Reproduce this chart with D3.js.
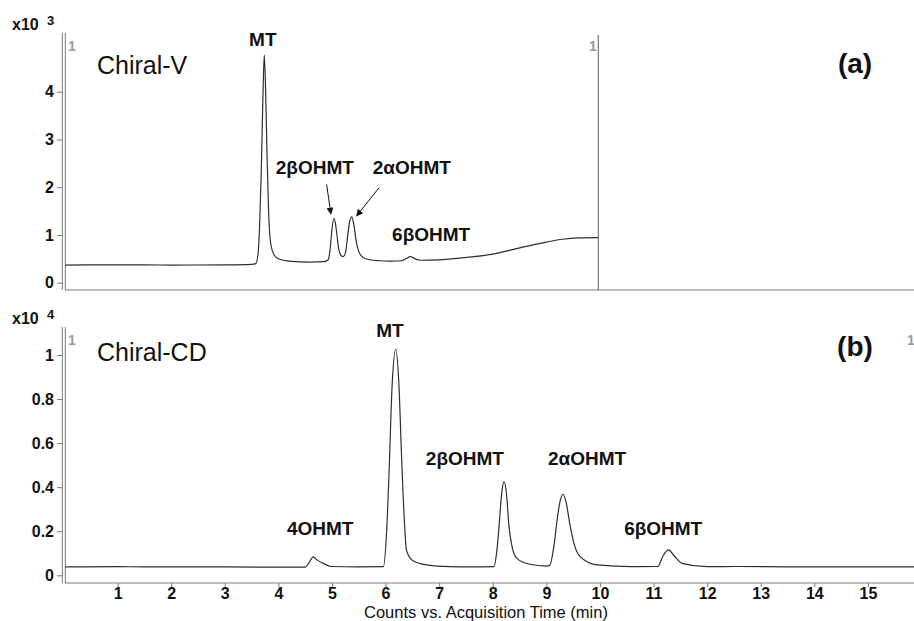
<!DOCTYPE html>
<html>
<head>
<meta charset="utf-8">
<script src="https://cdn.jsdelivr.net/npm/d3@7"></script>
<style>
  body { margin: 0; background: #fff; }
  svg { display: block; font-family: "Liberation Sans", Arial, sans-serif; }
</style>
</head>
<body>
<div id="chart"></div>
<script>
// Chiral-V trace (counts x10^3)
const timeA = [0.02, 1.0, 2.0, 3.0, 3.5, 3.58, 3.62, 3.65, 3.68, 3.71, 3.737, 3.76, 3.79, 3.82, 3.86, 3.92, 4.0, 4.2, 4.6, 4.85,
    4.93, 4.97, 5.0, 5.04, 5.08, 5.12, 5.17, 5.21, 5.25, 5.29, 5.33, 5.37, 5.41, 5.45, 5.5, 5.58, 5.7, 5.9, 6.1, 6.3,
    6.38, 6.46, 6.55, 6.65, 7.0, 7.6, 8.0, 8.5, 9.0, 9.3, 9.6, 9.97];
const countsA = [0.37, 0.375, 0.37, 0.375, 0.385, 0.40, 0.6, 1.2, 2.3, 3.8, 4.77, 4.1, 2.6, 1.4, 0.8, 0.58, 0.5, 0.45, 0.43, 0.44,
    0.48, 0.75, 1.12, 1.35, 1.12, 0.75, 0.57, 0.545, 0.62, 0.95, 1.28, 1.38, 1.2, 0.88, 0.65, 0.53, 0.48, 0.46, 0.45, 0.46,
    0.5, 0.545, 0.5, 0.47, 0.48, 0.54, 0.6, 0.73, 0.85, 0.91, 0.94, 0.945];

// Chiral-CD trace (counts x10^4)
const timeB = [0.02, 1.0, 2.0, 3.0, 4.0, 4.5, 4.58, 4.65, 4.72, 4.84, 4.98, 5.5, 5.96, 6.02, 6.07, 6.12, 6.19, 6.25, 6.3, 6.35,
    6.39, 6.49, 6.77, 7.2, 7.6, 8.02, 8.08, 8.12, 8.17, 8.21, 8.26, 8.3, 8.36, 8.45, 8.69, 9.0, 9.06, 9.14, 9.2, 9.26,
    9.31, 9.37, 9.44, 9.52, 9.63, 9.95, 10.6, 11.08, 11.18, 11.28, 11.38, 11.53, 12.0, 12.58, 13.5, 14.5, 15.86];
const countsB = [0.038, 0.039, 0.038, 0.038, 0.037, 0.037, 0.06, 0.084, 0.07, 0.054, 0.04, 0.038, 0.039, 0.2, 0.5, 0.85, 1.026, 0.86, 0.53, 0.25,
    0.115, 0.07, 0.047, 0.039, 0.038, 0.039, 0.12, 0.23, 0.38, 0.425, 0.36, 0.23, 0.13, 0.077, 0.05, 0.042, 0.045, 0.13, 0.25, 0.34,
    0.368, 0.33, 0.23, 0.14, 0.085, 0.047, 0.039, 0.04, 0.09, 0.115, 0.09, 0.054, 0.039, 0.04, 0.038, 0.038, 0.038];

const xTicks = d3.range(1, 16);
const yTicksA = [0, 1, 2, 3, 4];
const yTicksB = [0, 0.2, 0.4, 0.6, 0.8, 1];

// peak annotations, anchored in data units (time, counts)
const labelsA = [
    { text: "MT", t: 3.71, v: 4.96 },
    { text: "2βOHMT", t: 4.68, v: 2.28 },
    { text: "2αOHMT", t: 6.49, v: 2.28 },
    { text: "6βOHMT", t: 6.85, v: 0.87 }
];
const arrowsA = [
    { t0: 4.90, v0: 2.06, t1: 4.98, v1: 1.44 },
    { t0: 5.88, v0: 1.99, t1: 5.46, v1: 1.40 }
];
const labelsB = [
    { text: "4OHMT", t: 4.78, v: 0.183 },
    { text: "MT", t: 6.08, v: 1.082 },
    { text: "2βOHMT", t: 7.48, v: 0.50 },
    { text: "2αOHMT", t: 9.76, v: 0.50 },
    { text: "6βOHMT", t: 11.18, v: 0.183 }
];

const width = 914;
const height = 621;
const axisGrey = "#7a7a7a";
const traceColor = "#2e2e2e";

const svg = d3.select("#chart")
    .append("svg")
    .attr("width", width)
    .attr("height", height);

svg.append("defs").append("marker")
    .attr("id", "head")
    .attr("viewBox", "0 0 10 10")
    .attr("refX", 9).attr("refY", 5)
    .attr("markerWidth", 7).attr("markerHeight", 7)
    .attr("markerUnits", "userSpaceOnUse")
    .attr("orient", "auto")
    .append("path")
    .attr("d", "M0,0L10,5L0,10z")
    .attr("fill", "#111");

const x = d3.scaleLinear().domain([0, 15.86]).range([64, 914]);
const yA = d3.scaleLinear().domain([0, 4]).range([282.7, 91.7]);
const yB = d3.scaleLinear().domain([0, 1]).range([575.3, 355]);

function panel(y, ticks, fmt, top, bottom, times, counts, labels, exp, tag, tagY, rightLine) {
    const g = svg.append("g");

    // double vertical axis line
    [62.3, 65.3].forEach(px => {
        g.append("line")
            .attr("x1", px).attr("x2", px)
            .attr("y1", top).attr("y2", bottom)
            .attr("stroke", axisGrey).attr("stroke-width", 1);
    });
    // x baseline
    g.append("line")
        .attr("x1", 65).attr("x2", width)
        .attr("y1", bottom).attr("y2", bottom)
        .attr("stroke", axisGrey).attr("stroke-width", 1.2);

    const yAxis = g.append("g")
        .attr("transform", "translate(62,0)")
        .call(d3.axisLeft(y).tickValues(ticks).tickSize(5).tickPadding(3).tickFormat(fmt));
    yAxis.select(".domain").remove();
    yAxis.selectAll("line").attr("stroke", axisGrey);
    yAxis.selectAll("text")
        .attr("fill", "#111")
        .style("font-size", "16px")
        .style("font-weight", "bold")
        .style("font-family", "'Liberation Sans', Arial, sans-serif");

    // trace
    const pts = times.map((t, i) => [t, counts[i]]);
    const line = d3.line()
        .x(d => x(d[0]))
        .y(d => y(d[1]))
        .curve(d3.curveMonotoneX);
    g.append("path")
        .datum(pts)
        .attr("fill", "none")
        .attr("stroke", traceColor)
        .attr("stroke-width", 1.2)
        .attr("d", line);

    // exponent
    g.append("text").attr("x", 12).attr("y", top - 3)
        .style("font-size", "16px").style("font-weight", "bold").attr("fill", "#111")
        .text("x10");
    g.append("text").attr("x", 47).attr("y", top - 8)
        .style("font-size", "13px").style("font-weight", "bold").attr("fill", "#111")
        .text(exp);

    // grey trace index
    g.append("text").attr("x", 68).attr("y", top + 18)
        .style("font-size", "14px").style("font-weight", "bold").attr("fill", "#9a9a9a")
        .text("1");
    g.append("text").attr("x", rightLine ? 589 : 907).attr("y", top + 18)
        .style("font-size", "14px").style("font-weight", "bold").attr("fill", "#9a9a9a")
        .text("1");

    // sample name
    g.append("text").attr("x", 97).attr("y", tagY + 1)
        .style("font-size", "25px").attr("fill", "#111")
        .text(tag);

    g.selectAll(".peak")
        .data(labels)
        .enter().append("text")
        .attr("x", d => x(d.t))
        .attr("y", d => y(d.v))
        .attr("text-anchor", "middle")
        .style("font-size", "19px")
        .style("font-weight", "bold")
        .attr("fill", "#111")
        .text(d => d.text);

    return g;
}

const gA = panel(yA, yTicksA, d3.format("d"), 33, 290, timeA, countsA, labelsA, "3", "Chiral-V", 73, true);
const gB = panel(yB, yTicksB, d3.format("~g"), 327, 583, timeB, countsB, labelsB, "4", "Chiral-CD", 360, false);

// right end of the Chiral-V run
gA.append("line")
    .attr("x1", x(timeA[timeA.length - 1])).attr("x2", x(timeA[timeA.length - 1]))
    .attr("y1", 35).attr("y2", 290)
    .attr("stroke", axisGrey).attr("stroke-width", 1.2);

gA.selectAll(".arrow")
    .data(arrowsA)
    .enter().append("line")
    .attr("x1", d => x(d.t0)).attr("y1", d => yA(d.v0))
    .attr("x2", d => x(d.t1)).attr("y2", d => yA(d.v1))
    .attr("stroke", "#111").attr("stroke-width", 1)
    .attr("marker-end", "url(#head)");

svg.append("text").attr("x", 855).attr("y", 73).attr("text-anchor", "middle")
    .style("font-size", "28px").style("font-weight", "bold").attr("fill", "#111").text("(a)");
svg.append("text").attr("x", 855).attr("y", 356).attr("text-anchor", "middle")
    .style("font-size", "28px").style("font-weight", "bold").attr("fill", "#111").text("(b)");

// time axis
const xAxis = svg.append("g")
    .attr("transform", "translate(0,583)")
    .call(d3.axisBottom(x).tickValues(xTicks).tickSize(4).tickPadding(1).tickFormat(d3.format("d")));
xAxis.select(".domain").remove();
xAxis.selectAll("line").attr("stroke", axisGrey);
xAxis.selectAll("text")
    .attr("fill", "#111")
    .style("font-size", "16px")
    .style("font-weight", "bold")
    .style("font-family", "'Liberation Sans', Arial, sans-serif");

svg.append("text")
    .attr("x", 486).attr("y", 618)
    .attr("text-anchor", "middle")
    .style("font-size", "16.5px")
    .attr("fill", "#111")
    .text("Counts vs. Acquisition Time (min)");
</script>
</body>
</html>
